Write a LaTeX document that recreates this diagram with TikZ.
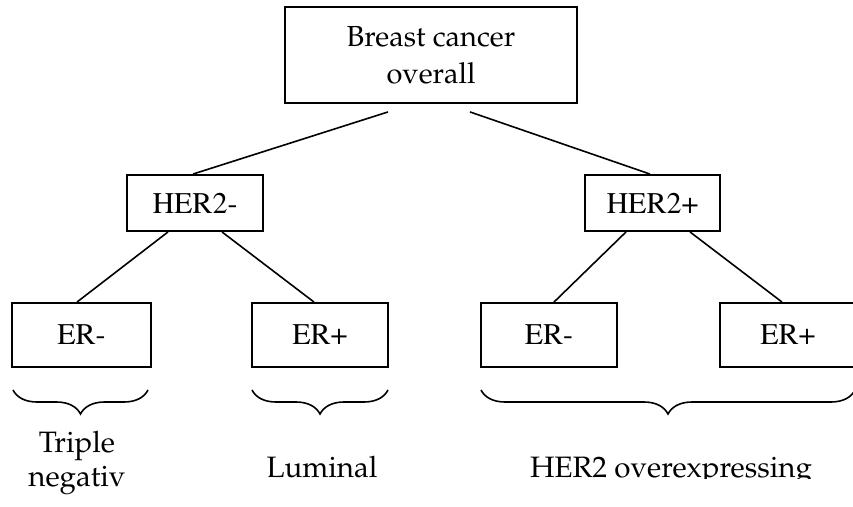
\documentclass[tikz,border=0pt]{standalone}
\usepackage[T1]{fontenc}
\usetikzlibrary{decorations.pathreplacing}
\newcommand\palfont{\fontfamily{ppl}\selectfont}
\newcommand\timesfont{\fontfamily{ptm}\selectfont}
\begin{document}
\begin{tikzpicture}[x=1pt,y=-1pt,
  box/.style={draw, line width=1.9pt, inner sep=0pt, minimum width=136pt, minimum height=64pt,
    font=\timesfont\fontsize{30}{36}\selectfont},
  link/.style={line width=1.6pt},
  lbl/.style={font=\palfont\fontsize{29.5}{34}\selectfont, align=center, inner sep=0pt},
  brc/.style={decorate, decoration={brace, mirror, amplitude=24pt}, line width=1.6pt}]
\useasboundingbox (0,0) rectangle (853,506);
% boxes
\node[box, minimum width=292pt, minimum height=96pt, align=center,
  font=\palfont\fontsize{29}{37}\selectfont] (top) at (431,55) {Breast cancer\\overall};
\node[box, minimum height=56pt] (hn) at (195,203) {HER2-};
\node[box, minimum height=56pt, minimum width=135pt] (hp) at (652.5,203) {HER2+};
\node[box, minimum width=139pt] (nn) at (81.5,335) {ER-};
\node[box] (np) at (320,335) {ER+};
\node[box] (pn) at (549,335) {ER-};
\node[box] (pp) at (788,335) {ER+};
% connectors
\draw[link] ([xshift=-43pt,yshift=-8pt]top.south) -- ([xshift=-2pt]hn.north);
\draw[link] ([xshift=39pt,yshift=-8pt]top.south) -- ([xshift=-2.5pt]hp.north);
\draw[link] ([xshift=-27pt]hn.south) -- ([xshift=-4.5pt]nn.north);
\draw[link] ([xshift=27pt]hn.south) -- ([xshift=-6pt]np.north);
\draw[link] ([xshift=-26.5pt]hp.south) -- ([xshift=5pt]pn.north);
\draw[link] ([xshift=37.5pt]hp.south) -- ([xshift=-6pt]pp.north);
% braces
\coordinate (b1a) at (13,390);  \coordinate (b1b) at (148,390);
\coordinate (b2a) at (252,390); \coordinate (b2b) at (388,390);
\coordinate (b3a) at (481,390); \coordinate (b3b) at (855,390);
\draw[brc] (b1a) -- (b1b);
\draw[brc] (b2a) -- (b2b);
\draw[brc] (b3a) -- (b3b);
% group labels
\node[lbl] (tn) at (77,463) {Triple\\negativ};
\node[lbl, anchor=base] (lu) at (322,477) {Luminal};
\begin{scope}
\clip (0,0) rectangle (853,478);
\node[lbl, anchor=base] (ho) at (671,477) {HER2 overexpressing};
\end{scope}
\end{tikzpicture}
\end{document}
